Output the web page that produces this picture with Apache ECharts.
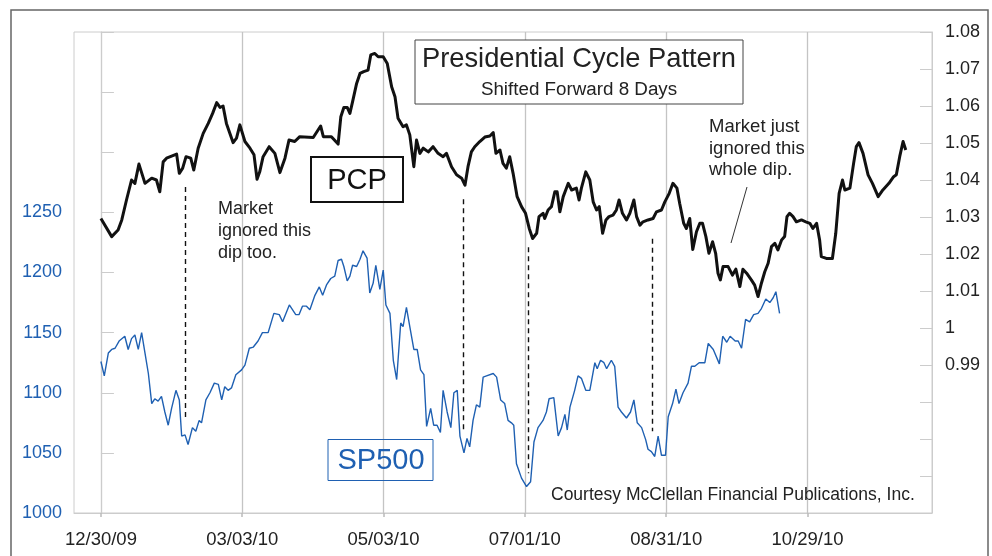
<!DOCTYPE html>
<html>
<head>
<meta charset="utf-8">
<script src="https://cdn.jsdelivr.net/npm/echarts@6.0.0/dist/echarts.min.js"></script>
<style>
    html, body { margin: 0; padding: 0; background: #fff; }
    #chart { width: 992px; height: 556px; }
</style>
</head>
<body>
<div id="chart"></div>
<script>
// x values are trading days counted from 12/30/09
var tickDays = [0, 42, 84, 126, 168, 210];
var tickLabels = ['12/30/09', '03/03/10', '05/03/10', '07/01/10', '08/31/10', '10/29/10'];

var pcpDay = [
    0, 3.2, 5.1, 6.2, 7.6, 9.1, 10.1, 11.3, 13.1, 15.1,
    16.5, 17.5, 18.5, 19.5, 22.5, 23.3, 24.3, 25.3, 26.7, 27.6,
    28.9, 30.4, 31.9, 33.2, 34.4, 35.4, 36.3, 37.3, 39.3, 40.3,
    41.3, 42.8, 44.3, 45.5, 46.4, 47.2, 48.2, 50.0, 51.7, 53.2,
    54.7, 55.9, 57.6, 59.1, 63.1, 65.3, 66.1, 68.5, 70.5, 71.3,
    72.2, 73.2, 74.0, 74.8, 76.0, 77.0, 78.1, 79.4, 80.2, 81.4,
    82.4, 83.9, 85.1, 86.4, 87.4, 88.3, 89.8, 90.8, 91.8, 93.0,
    93.8, 94.8, 95.8, 97.3, 98.7, 100.2, 101.7, 102.7, 104.2, 105.7,
    107.2, 108.2, 109.1, 110.1, 111.1, 112.6, 114.1, 115.6, 116.6, 117.4,
    118.6, 119.5, 120.5, 121.5, 122.5, 123.7, 125.0, 126.2, 127.3, 128.3,
    129.5, 130.2, 131.4, 131.9, 132.9, 133.9, 134.9, 135.6, 136.4, 137.4,
    138.9, 139.9, 141.3, 142.1, 142.8, 144.1, 145.3, 146.3, 147.3, 148.1,
    149.1, 150.1, 151.0, 152.2, 153.2, 154.0, 155.0, 156.2, 157.2, 158.4,
    159.2, 160.2, 161.1, 162.6, 164.1, 165.1, 166.6, 167.6, 168.9, 170.0,
    171.2, 172.0, 173.2, 174.0, 175.0, 175.9, 177.0, 178.0, 178.8, 179.8,
    180.7, 181.8, 182.7, 183.4, 184.1, 184.9, 186.4, 187.7, 188.7, 189.9,
    190.8, 191.9, 193.3, 194.3, 195.3, 196.3, 197.3, 198.3, 199.3, 200.3,
    201.2, 202.3, 203.2, 203.9, 204.7, 205.7, 206.7, 208.2, 209.5, 210.7,
    211.6, 212.7, 213.6, 214.1, 215.6, 217.4, 218.4, 219.4, 220.4, 221.1,
    222.6, 223.7, 224.5, 225.3, 226.5, 228.0, 229.3, 231.0, 232.4, 234.2,
    235.6, 236.4, 237.4, 238.4, 239.2
];
var pcpValue = [
    1.0296, 1.0247, 1.0265, 1.0292, 1.0346, 1.0400, 1.0391, 1.0443, 1.0391, 1.0405,
    1.0400, 1.0368, 1.0449, 1.0459, 1.0470, 1.0418, 1.0432, 1.0463, 1.0459, 1.0427,
    1.0486, 1.0526, 1.0553, 1.0580, 1.0609, 1.0596, 1.0600, 1.0553, 1.0501, 1.0513,
    1.0549, 1.0504, 1.0486, 1.0468, 1.0402, 1.0422, 1.0463, 1.0490, 1.0472, 1.0420,
    1.0459, 1.0508, 1.0504, 1.0517, 1.0515, 1.0546, 1.0517, 1.0517, 1.0497, 1.0571,
    1.0596, 1.0596, 1.0580, 1.0612, 1.0661, 1.0688, 1.0693, 1.0697, 1.0738, 1.0742,
    1.0733, 1.0733, 1.0715, 1.0652, 1.0625, 1.0567, 1.0544, 1.0549, 1.0522, 1.0436,
    1.0508, 1.0472, 1.0486, 1.0476, 1.0490, 1.0472, 1.0463, 1.0472, 1.0436, 1.0414,
    1.0405, 1.0386, 1.0436, 1.0476, 1.0490, 1.0504, 1.0516, 1.0519, 1.0528, 1.0472,
    1.0481, 1.0445, 1.0432, 1.0463, 1.0418, 1.0355, 1.0328, 1.0310, 1.0269, 1.0242,
    1.0256, 1.0301, 1.0310, 1.0296, 1.0319, 1.0328, 1.0368, 1.0368, 1.0314, 1.0355,
    1.0391, 1.0373, 1.0378, 1.0346, 1.0378, 1.0422, 1.0400, 1.0341, 1.0319, 1.0328,
    1.0256, 1.0292, 1.0301, 1.0305, 1.0319, 1.0346, 1.0310, 1.0292, 1.0310, 1.0346,
    1.0301, 1.0278, 1.0287, 1.0292, 1.0296, 1.0314, 1.0319, 1.0341, 1.0364, 1.0391,
    1.0378, 1.0337, 1.0283, 1.0269, 1.0296, 1.0212, 1.0260, 1.0283, 1.0283, 1.0247,
    1.0202, 1.0233, 1.0202, 1.0148, 1.0130, 1.0166, 1.0166, 1.0143, 1.0159, 1.0112,
    1.0159, 1.0148, 1.0130, 1.0116, 1.0085, 1.0121, 1.0152, 1.0175, 1.0220, 1.0229,
    1.0211, 1.0238, 1.0247, 1.0301, 1.0310, 1.0301, 1.0287, 1.0292, 1.0287, 1.0283,
    1.0269, 1.0283, 1.0238, 1.0193, 1.0188, 1.0188, 1.0256, 1.0364, 1.0400, 1.0373,
    1.0378, 1.0445, 1.0490, 1.0501, 1.0472, 1.0414, 1.0391, 1.0355, 1.0373, 1.0391,
    1.0409, 1.0414, 1.0463, 1.0504, 1.0481
];

var spDay = [
    0, 1.0, 2.2, 3.2, 4.2, 5.4, 7.1, 8.1, 9.1, 10.1,
    11.1, 12.1, 13.1, 14.1, 15.1, 16.0, 17.0, 18.0, 19.0, 20.0,
    21.0, 22.3, 23.3, 24.0, 25.0, 25.9, 27.2, 28.2, 29.2, 29.9,
    31.2, 32.4, 33.7, 34.9, 35.9, 36.8, 37.8, 38.8, 40.1, 41.8,
    42.8, 44.1, 45.3, 46.7, 48.0, 49.7, 51.4, 53.0, 54.0, 56.0,
    57.9, 58.9, 59.9, 61.1, 62.1, 63.6, 64.9, 65.9, 67.1, 68.3,
    69.5, 70.5, 71.5, 72.2, 73.2, 74.0, 74.8, 76.0, 77.0, 77.9,
    79.1, 79.9, 80.9, 81.7, 82.9, 83.9, 84.7, 85.9, 86.9, 87.9,
    89.1, 89.8, 90.8, 91.8, 93.0, 94.0, 95.0, 96.0, 96.8, 98.0,
    98.9, 99.9, 100.9, 101.7, 102.9, 104.0, 104.9, 105.9, 106.7, 107.9,
    108.8, 109.6, 110.6, 111.6, 112.6, 113.6, 114.6, 116.6, 117.6, 118.8,
    120.0, 121.0, 122.0, 122.7, 123.5, 125.0, 126.5, 127.7, 128.7, 129.9,
    131.4, 132.4, 133.2, 134.6, 135.9, 136.9, 137.9, 138.6, 139.4, 140.8,
    141.8, 142.8, 144.1, 145.3, 146.8, 147.5, 148.5, 149.5, 150.3, 151.7,
    152.7, 153.7, 154.7, 156.2, 157.4, 158.4, 159.4, 160.7, 161.9, 162.6,
    163.6, 164.6, 165.6, 166.6, 167.8, 168.6, 169.9, 170.9, 171.8, 173.0,
    174.5, 175.5, 176.5, 177.8, 179.5, 180.5, 182.0, 183.8, 184.8, 186.0,
    187.0, 188.5, 189.4, 190.4, 191.6, 192.8, 194.0, 195.3, 196.3, 197.6,
    198.8, 199.8, 200.6, 201.7
];
var spValue = [
    1126, 1114, 1133, 1136, 1137, 1143, 1147, 1136, 1145, 1148,
    1136, 1150, 1133, 1116, 1091, 1095, 1093, 1097, 1084, 1073,
    1087, 1102, 1094, 1064, 1065, 1057, 1071, 1068, 1077, 1075,
    1094, 1100, 1108, 1107, 1094, 1105, 1102, 1104, 1115, 1119,
    1123, 1137, 1138, 1143, 1150, 1150, 1166, 1165, 1159, 1173,
    1165, 1165, 1172, 1172, 1169, 1181, 1188, 1181, 1190, 1195,
    1197, 1210, 1211, 1205, 1193, 1197, 1206, 1205, 1211, 1218,
    1212, 1183, 1191, 1206, 1186, 1202, 1173, 1166, 1127, 1111,
    1158, 1155, 1171, 1155, 1136, 1136, 1119, 1115, 1072, 1087,
    1073, 1073, 1067, 1102, 1084, 1071, 1100, 1102, 1064, 1050,
    1062, 1055, 1077, 1090, 1088, 1113, 1114, 1116, 1113, 1094,
    1091, 1077, 1075, 1073, 1041, 1029, 1022, 1026, 1059, 1071,
    1077, 1084, 1095, 1096, 1064, 1071, 1082, 1069, 1088, 1102,
    1114, 1112, 1102, 1102, 1125, 1120, 1127, 1125, 1120, 1127,
    1122, 1088, 1084, 1079, 1084, 1094, 1075, 1071, 1061, 1053,
    1051, 1047, 1064, 1048, 1048, 1080, 1091, 1103, 1091, 1100,
    1108, 1122, 1122, 1125, 1125, 1141, 1136, 1124, 1147, 1142,
    1147, 1143, 1143, 1137, 1161, 1159, 1165, 1166, 1170, 1178,
    1175, 1179, 1184, 1166
];

// dashed dip markers: [day, top SP500 level, bottom SP500 level]
var dipLines = [[25.0, 1271, 1077], [107.7, 1261, 1067], [127.0, 1221, 1033], [163.9, 1228, 1068]];

var FONT = '"Liberation Sans", Arial, sans-serif';
var BLUE = '#1f60b2';

function zip(xs, ys) {
    var out = [];
    for (var i = 0; i < xs.length; i++) out.push([xs[i], ys[i]]);
    return out;
}

var chart = echarts.init(document.getElementById('chart'));

var option = {
    animation: false,
    backgroundColor: '#fff',
    grid: {
        left: 74, right: 60, top: 32, bottom: 43,
        show: true, borderColor: '#cccccc', borderWidth: 1
    },
    xAxis: {
        type: 'value',
        min: -8,
        max: 247,
        axisLine: { lineStyle: { color: '#cccccc' } },
        axisTick: { customValues: tickDays, length: 4, lineStyle: { color: '#bbbbbb', width: 1.5 } },
        axisLabel: {
            customValues: tickDays,
            margin: 17,
            color: '#222',
            fontSize: 18.5,
            fontFamily: FONT,
            formatter: function (v) {
                var i = tickDays.indexOf(Math.round(v));
                return i >= 0 ? tickLabels[i] : '';
            }
        },
        splitLine: { show: true, lineStyle: { color: '#c4c4c4', width: 1.3 } }
    },
    yAxis: [
        {
            type: 'value',
            position: 'left',
            min: 1000, max: 1400, interval: 50,
            axisLine: { show: true, lineStyle: { color: '#cccccc' } },
            axisTick: { show: true, inside: true, length: 13, lineStyle: { color: '#cccccc' } },
            axisLabel: {
                margin: 12, color: BLUE, fontSize: 18, fontFamily: FONT,
                formatter: function (v) { return v <= 1250 ? String(v) : ''; }
            },
            splitLine: { show: false }
        },
        {
            type: 'value',
            position: 'right',
            min: 0.95, max: 1.08, interval: 0.01,
            axisLine: { show: true, lineStyle: { color: '#cccccc' } },
            axisTick: { show: true, inside: true, length: 12, lineStyle: { color: '#cccccc' } },
            axisLabel: {
                margin: 13, color: '#222', fontSize: 18, fontFamily: FONT,
                formatter: function (v) {
                    var r = Math.round(v * 100) / 100;
                    return r >= 0.99 ? String(r) : '';
                }
            },
            splitLine: { show: false }
        }
    ],
    series: [
        {
            name: 'SP500',
            type: 'line',
            yAxisIndex: 0,
            data: zip(spDay, spValue),
            showSymbol: false,
            symbol: 'none',
            lineStyle: { color: BLUE, width: 1.4 },
            z: 3,
            markLine: {
                silent: true,
                symbol: 'none',
                label: { show: false },
                lineStyle: { color: '#111', type: [5, 4], width: 1.4 },
                data: dipLines.map(function (d) {
                    return [{ coord: [d[0], d[1]] }, { coord: [d[0], d[2]] }];
                })
            }
        },
        {
            name: 'PCP',
            type: 'line',
            yAxisIndex: 1,
            data: zip(pcpDay, pcpValue),
            showSymbol: false,
            symbol: 'none',
            lineStyle: { color: '#111', width: 3, join: 'round' },
            z: 4
        }
    ],
    graphic: [
        // outer frame of the picture
        { type: 'rect', z: 100, silent: true,
          shape: { x: 11, y: 10, width: 977, height: 560 },
          style: { fill: 'none', stroke: '#666', lineWidth: 1.5 } },
        // title box
        { type: 'rect', z: 50,
          shape: { x: 415, y: 40, width: 328, height: 64 },
          style: { fill: '#fff', stroke: '#444', lineWidth: 1 } },
        { type: 'text', z: 51, x: 579, y: 59,
          style: { text: 'Presidential Cycle Pattern', fill: '#222', font: '27.3px ' + FONT, align: 'center', verticalAlign: 'middle' } },
        { type: 'text', z: 51, x: 579, y: 90,
          style: { text: 'Shifted Forward 8 Days', fill: '#222', font: '18.8px ' + FONT, align: 'center', verticalAlign: 'middle' } },
        // series tags
        { type: 'rect', z: 50,
          shape: { x: 311, y: 157, width: 92, height: 45 },
          style: { fill: 'none', stroke: '#111', lineWidth: 2 } },
        { type: 'text', z: 51, x: 357, y: 181,
          style: { text: 'PCP', fill: '#111', font: '29px ' + FONT, align: 'center', verticalAlign: 'middle' } },
        { type: 'rect', z: 50,
          shape: { x: 328, y: 439.5, width: 105, height: 41 },
          style: { fill: 'none', stroke: BLUE, lineWidth: 1 } },
        { type: 'text', z: 51, x: 381, y: 461,
          style: { text: 'SP500', fill: BLUE, font: '29px ' + FONT, align: 'center', verticalAlign: 'middle' } },
        // notes
        { type: 'text', z: 51, x: 218, y: 198,
          style: { text: 'Market\nignored this\ndip too.', fill: '#222', font: '18px ' + FONT, lineHeight: 22, align: 'left', verticalAlign: 'top' } },
        { type: 'text', z: 51, x: 709, y: 116,
          style: { text: 'Market just\nignored this\nwhole dip.', fill: '#222', font: '18.5px ' + FONT, lineHeight: 21.7, align: 'left', verticalAlign: 'top' } },
        { type: 'line', z: 51,
          shape: { x1: 747, y1: 187, x2: 731, y2: 243 },
          style: { stroke: '#333', lineWidth: 1 } },
        { type: 'text', z: 51, x: 551, y: 495,
          style: { text: 'Courtesy McClellan Financial Publications, Inc.', fill: '#222', font: '17.5px ' + FONT, align: 'left', verticalAlign: 'middle' } }
    ]
};
chart.setOption(option);
</script>
</body>
</html>
